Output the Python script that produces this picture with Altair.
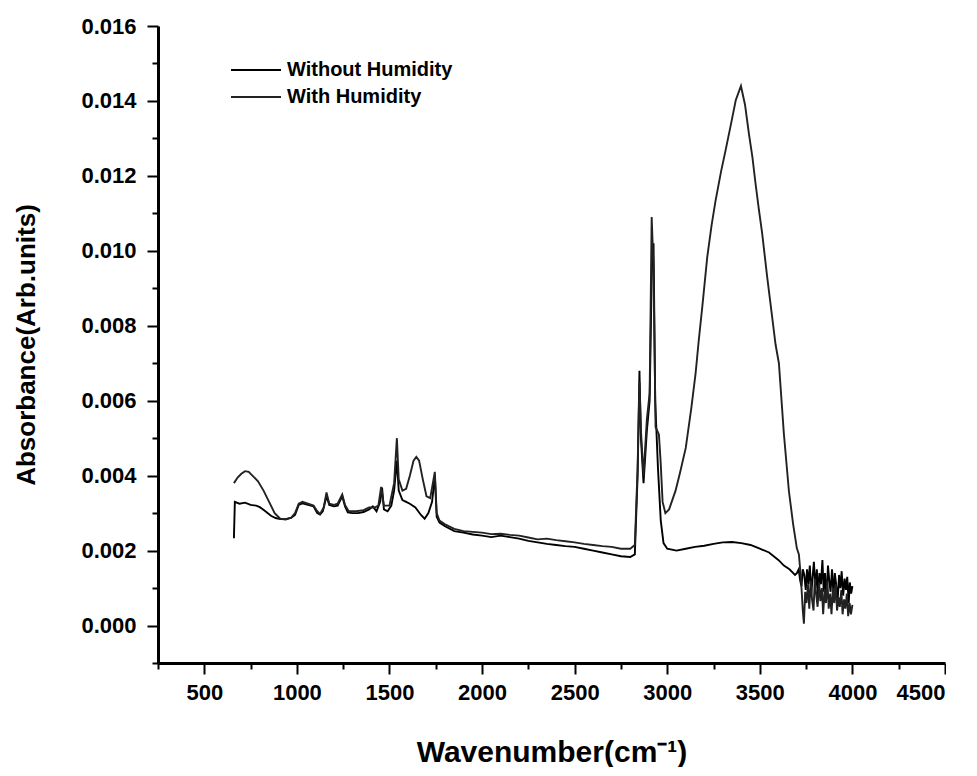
import altair as alt
import pandas as pd

# Without Humidity spectrum (wavenumber cm-1, absorbance)
wn_without = [660, 665, 690, 720, 750, 780, 800, 830, 860, 885, 910, 940, 970, 990,
              1010, 1030, 1060, 1090, 1110, 1125, 1140, 1160, 1175, 1200, 1220, 1245,
              1260, 1275, 1300, 1330, 1360, 1390, 1410, 1430, 1450, 1460, 1470, 1490,
              1510, 1525, 1540, 1550, 1570, 1590, 1610, 1640, 1670, 1690, 1710, 1730,
              1745, 1755, 1770, 1800, 1850, 1900, 1950, 2000, 2050, 2100, 2150, 2200,
              2250, 2300, 2350, 2400, 2450, 2500, 2550, 2600, 2650, 2700, 2750, 2800,
              2825, 2840, 2850, 2858, 2872, 2890, 2905, 2918, 2926, 2935, 2950, 2965,
              2980, 3000, 3050, 3100, 3150, 3200, 3250, 3300, 3350, 3400, 3450, 3500,
              3550, 3600, 3630, 3660, 3690,
              3700, 3710, 3718, 3725, 3732, 3740, 3748, 3755, 3762, 3770, 3778, 3785,
              3792, 3800, 3808, 3815, 3822, 3830, 3838, 3845, 3852, 3860, 3868, 3875,
              3882, 3890, 3898, 3905, 3912, 3920, 3928, 3935, 3942, 3950, 3958, 3965,
              3972, 3980, 3986, 3993, 4000]
abs_without = [0.00233, 0.00330, 0.00325, 0.00328, 0.00322, 0.00320, 0.00316, 0.00305,
               0.00293, 0.00287, 0.00284, 0.00284, 0.00288, 0.00295, 0.00322, 0.00326,
               0.00322, 0.00318, 0.00300, 0.00296, 0.00305, 0.00345, 0.00322, 0.00318,
               0.00320, 0.00345, 0.00318, 0.00302, 0.00300, 0.00300, 0.00303, 0.00310,
               0.00318, 0.00305, 0.00330, 0.00368, 0.00310, 0.00305, 0.00320, 0.00360,
               0.00440, 0.00360, 0.00335, 0.00330, 0.00325, 0.00315, 0.00295, 0.00285,
               0.00300, 0.00330, 0.00400, 0.00290, 0.00275, 0.00265, 0.00252, 0.00248,
               0.00243, 0.00240, 0.00236, 0.00240, 0.00236, 0.00232, 0.00226, 0.00222,
               0.00218, 0.00215, 0.00212, 0.00210, 0.00205, 0.00200, 0.00195, 0.00190,
               0.00185, 0.00183, 0.00190, 0.00400, 0.00680, 0.00500, 0.00380, 0.00520,
               0.00600, 0.00990, 0.01020, 0.00600, 0.00420, 0.00280, 0.00220, 0.00205,
               0.00200, 0.00205, 0.00210, 0.00213, 0.00218, 0.00222, 0.00223, 0.00220,
               0.00215, 0.00205, 0.00195, 0.00175, 0.00160, 0.00150, 0.00135,
               0.00140, 0.00150, 0.00120, 0.00105, 0.00150, 0.00135, 0.00095, 0.00150,
               0.00110, 0.00160, 0.00085, 0.00130, 0.00170, 0.00100, 0.00150, 0.00075,
               0.00140, 0.00110, 0.00175, 0.00090, 0.00140, 0.00070, 0.00160, 0.00120,
               0.00090, 0.00150, 0.00080, 0.00140, 0.00110, 0.00065, 0.00135, 0.00100,
               0.00145, 0.00080, 0.00125, 0.00095, 0.00130, 0.00060, 0.00115, 0.00085,
               0.00105]

# With Humidity spectrum
wn_with = [660, 680, 700, 720, 740, 760, 790, 820, 850, 880, 910, 940, 970, 990, 1010,
           1030, 1060, 1090, 1110, 1125, 1145, 1160, 1175, 1200, 1220, 1245, 1260, 1280,
           1320, 1360, 1390, 1420, 1440, 1455, 1470, 1500, 1525, 1540, 1550, 1570, 1590,
           1610, 1630, 1645, 1660, 1680, 1700, 1720, 1745, 1755, 1770, 1800, 1850, 1900,
           1950, 2000, 2050, 2100, 2150, 2200, 2250, 2300, 2350, 2400, 2450, 2500, 2550,
           2600, 2650, 2700, 2750, 2800, 2825, 2840, 2850, 2858, 2872, 2890, 2905, 2916,
           2926, 2937, 2955, 2964, 2975, 2990, 3010, 3045, 3070, 3100, 3130, 3153, 3170,
           3189, 3216, 3240, 3261, 3290, 3315, 3345, 3370, 3398, 3420, 3441, 3460, 3477,
           3495, 3513, 3540, 3567, 3585, 3603, 3630, 3657, 3680, 3700, 3711, 3722, 3732,
           3738,
           3745, 3752, 3760, 3767, 3775, 3782, 3790, 3797, 3805, 3812, 3820, 3827, 3835,
           3842, 3850, 3857, 3865, 3872, 3880, 3887, 3895, 3902, 3910, 3917, 3925, 3932,
           3940, 3947, 3955, 3962, 3970, 3977, 3985, 3992, 4000]
abs_with = [0.00380, 0.00395, 0.00405, 0.00412, 0.00410, 0.00400, 0.00385, 0.00360,
            0.00330, 0.00300, 0.00285, 0.00283, 0.00288, 0.00300, 0.00325, 0.00330,
            0.00325, 0.00320, 0.00305, 0.00298, 0.00315, 0.00355, 0.00325, 0.00322,
            0.00325, 0.00350, 0.00322, 0.00305, 0.00305, 0.00308, 0.00315, 0.00315,
            0.00320, 0.00370, 0.00320, 0.00320, 0.00380, 0.00500, 0.00390, 0.00360,
            0.00365, 0.00400, 0.00440, 0.00450, 0.00440, 0.00390, 0.00345, 0.00340,
            0.00410, 0.00300, 0.00280, 0.00270, 0.00258, 0.00252, 0.00250, 0.00248,
            0.00244, 0.00245, 0.00242, 0.00240, 0.00235, 0.00230, 0.00232, 0.00228,
            0.00225, 0.00222, 0.00218, 0.00215, 0.00212, 0.00210, 0.00205, 0.00205,
            0.00215, 0.00420, 0.00650, 0.00520, 0.00400, 0.00550, 0.00620, 0.01090,
            0.00950, 0.00530, 0.00510, 0.00440, 0.00330, 0.00300, 0.00310, 0.00360,
            0.00410, 0.00474, 0.00580, 0.00672, 0.00760, 0.00849, 0.00983, 0.01070,
            0.01134, 0.01210, 0.01268, 0.01340, 0.01402, 0.01440, 0.01390, 0.01313,
            0.01250, 0.01179, 0.01110, 0.01045, 0.00929, 0.00822, 0.00750, 0.00700,
            0.00511, 0.00359, 0.00270, 0.00206, 0.00190, 0.00126, 0.00040, 0.00005,
            0.00090, 0.00060, 0.00110, 0.00045, 0.00120, 0.00070, 0.00040, 0.00125,
            0.00080, 0.00050, 0.00115, 0.00065, 0.00100, 0.00030, 0.00095, 0.00060,
            0.00120, 0.00045, 0.00085, 0.00030, 0.00100, 0.00060, 0.00110, 0.00040,
            0.00075, 0.00050, 0.00095, 0.00030, 0.00070, 0.00045, 0.00085, 0.00025,
            0.00060, 0.00030, 0.00055]

series_names = ["Without Humidity", "With Humidity"]
x_ticks = list(range(250, 4501, 250))
y_ticks = [round(-0.001 + 0.001 * i, 3) for i in range(18)]

df = pd.concat([
    pd.DataFrame({"wn": wn_without, "abs": abs_without, "series": series_names[0]}),
    pd.DataFrame({"wn": wn_with, "abs": abs_with, "series": series_names[1]}),
])

FONT = "Liberation Sans"

x_axis = alt.Axis(
    values=x_ticks,
    labelExpr="datum.value % 500 != 0 ? '' : format(datum.value, 'd')",
    tickSize={"condition": {"test": "datum.value % 500 != 0", "value": 6}, "value": 11},
    grid=False, domainWidth=3, tickWidth=2, domainColor="black", tickColor="black",
    labelFont=FONT, labelFontSize=22, labelFontWeight="bold", labelColor="black",
    labelPadding=8, labelOverlap=False,
    title="Wavenumber(cm⁻¹)", titleFont=FONT, titleFontSize=30, titleFontWeight="bold",
    titleColor="black", titlePadding=34,
)
y_axis = alt.Axis(
    values=y_ticks,
    labelExpr="round(datum.value*1000) % 2 != 0 ? '' : format(datum.value, '.3f')",
    tickSize={"condition": {"test": "round(datum.value*1000) % 2 != 0", "value": 6}, "value": 11},
    grid=False, domainWidth=3, tickWidth=2, domainColor="black", tickColor="black",
    labelFont=FONT, labelFontSize=22, labelFontWeight="bold", labelColor="black",
    labelPadding=11, labelOverlap=False,
    title="Absorbance(Arb.units)", titleFont=FONT, titleFontSize=26, titleFontWeight="bold",
    titleColor="black", titlePadding=41,
)

legend = alt.Legend(
    orient="none", legendX=88, legendY=34, title=None,
    symbolType="M-5,0H5", symbolSize=100, symbolStrokeWidth=1.8,
    symbolStrokeColor="black", symbolFillColor="transparent",
    labelFont=FONT, labelFontSize=20, labelFontWeight="bold", labelColor="black",
    labelOffset=21, labelLimit=400, rowPadding=7, padding=0,
)

chart = alt.Chart(df).mark_line(strokeWidth=1.9).encode(
    x=alt.X("wn:Q", scale=alt.Scale(domain=[250, 4500], nice=False, zero=False), axis=x_axis),
    y=alt.Y("abs:Q", scale=alt.Scale(domain=[-0.001, 0.016], nice=False, zero=False), axis=y_axis),
    color=alt.Color("series:N", scale=alt.Scale(domain=series_names, range=["#000000", "#222222"]),
                    legend=legend),
    detail="series:N",
).properties(
    width=787, height=637,
    padding={"left": 5, "top": 7, "right": 0, "bottom": 0},
).configure_view(stroke=None)

chart.save("out.html", embed_options={"renderer": "svg", "actions": False})
